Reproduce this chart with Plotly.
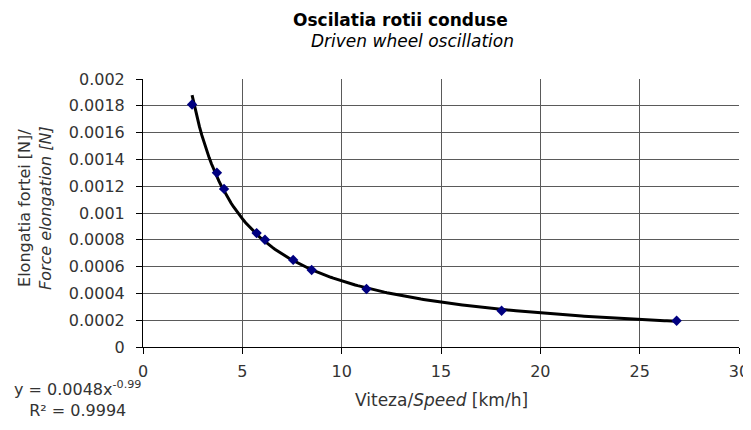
import numpy as np
import plotly.graph_objects as go

# Data
speed = [2.47, 3.72, 4.08, 5.72, 6.14, 7.56, 8.49, 11.25, 18.05, 26.86]
elongation = [0.00181, 0.00130, 0.00118, 0.00085, 0.00080, 0.00065, 0.000575, 0.000433, 0.00027, 0.000196]

x_ticks = [0, 5, 10, 15, 20, 25, 30]
y_ticks = [0, 0.0002, 0.0004, 0.0006, 0.0008, 0.001, 0.0012, 0.0014, 0.0016, 0.0018, 0.002]
y_tick_labels = ["0", "0.0002", "0.0004", "0.0006", "0.0008", "0.001", "0.0012", "0.0014", "0.0016", "0.0018", "0.002"]

equation_text = "y = 0.0048x<sup>-0.99</sup>"
r2_text = "R² = 0.9994"

# Power trendline fitted to the data (as the spreadsheet did)
b, log_a = np.polyfit(np.log(speed), np.log(elongation), 1)
trend_x = np.linspace(min(speed), max(speed), 200)
trend_y = np.exp(log_a) * trend_x ** b

font_family = "DejaVu Sans, Liberation Sans, Arial, sans-serif"
txt = "#333333"

# the page body has an 8px margin, so the figure is sized to fit the 751x430 window
W, H = 743, 414
PL, PR, PT, PB = 135, 12, 71, 75
plot_w = W - PL - PR   # 596
plot_h = H - PT - PB   # 268

fig = go.Figure()
fig.add_trace(go.Scatter(x=trend_x, y=trend_y, mode="lines",
                         line=dict(color="black", width=3), hoverinfo="skip"))
fig.add_trace(go.Scatter(x=speed, y=elongation, mode="markers",
                         marker=dict(symbol="diamond", color="#000080", size=8)))

fig.update_layout(
    width=W, height=H,
    margin=dict(l=PL, r=PR, t=PT, b=PB, autoexpand=False),
    paper_bgcolor="white", plot_bgcolor="white",
    showlegend=False,
    font=dict(family=font_family, color=txt, size=15),
    xaxis=dict(range=[0, 30], tickvals=x_ticks, showgrid=True, gridcolor="#5a5a5a", gridwidth=1.2,
               showline=True, linecolor="black", linewidth=1, ticks="outside", ticklen=6,
               tickcolor="black", zeroline=False, automargin=False, ticklabelstandoff=4,
               tickfont=dict(size=16, color=txt)),
    yaxis=dict(range=[0, 0.002], tickvals=y_ticks, ticktext=y_tick_labels, showgrid=True,
               gridcolor="#5a5a5a", gridwidth=1.2,
               showline=True, linecolor="black", linewidth=1, ticks="outside", ticklen=6,
               tickcolor="black", zeroline=False, automargin=False, ticklabelstandoff=8,
               tickfont=dict(size=16, color=txt)),
)

# window x of plot left is 143, window y of plot top is 79
def xs(px):
    return (px - 143) / plot_w

# Title (two lines)
fig.add_annotation(text="<b>Oscilatia rotii conduse</b>",
                   xref="paper", yref="paper", x=xs(400), xanchor="center", y=1, yshift=79 - 20,
                   yanchor="middle", showarrow=False, font=dict(size=17, color="black"))
fig.add_annotation(text="<i>Driven wheel oscillation</i>",
                   xref="paper", yref="paper", x=xs(412), xanchor="center", y=1, yshift=79 - 41,
                   yanchor="middle", showarrow=False, font=dict(size=17, color="black"))

# Y axis title
fig.add_annotation(text="Elongatia fortei [N]/<br><i>Force elongation [N]</i>",
                   xref="paper", yref="paper", x=xs(35), xanchor="center",
                   y=(347 - 208) / plot_h, yanchor="middle",
                   textangle=-90, showarrow=False, font=dict(size=16, color=txt))

# X axis title
fig.add_annotation(text="Viteza/<i>Speed</i> [km/h]",
                   xref="paper", yref="paper", x=xs(441), xanchor="center", y=0, yshift=347 - 400,
                   yanchor="middle", showarrow=False, font=dict(size=17, color=txt))

# Trendline equation
fig.add_annotation(text=equation_text + "<br>" + r2_text,
                   xref="paper", yref="paper", x=xs(77), xanchor="center",
                   y=0, yshift=347 - 422, yanchor="bottom", align="center",
                   showarrow=False, font=dict(size=16, color=txt))

fig.write_html("out.html")
